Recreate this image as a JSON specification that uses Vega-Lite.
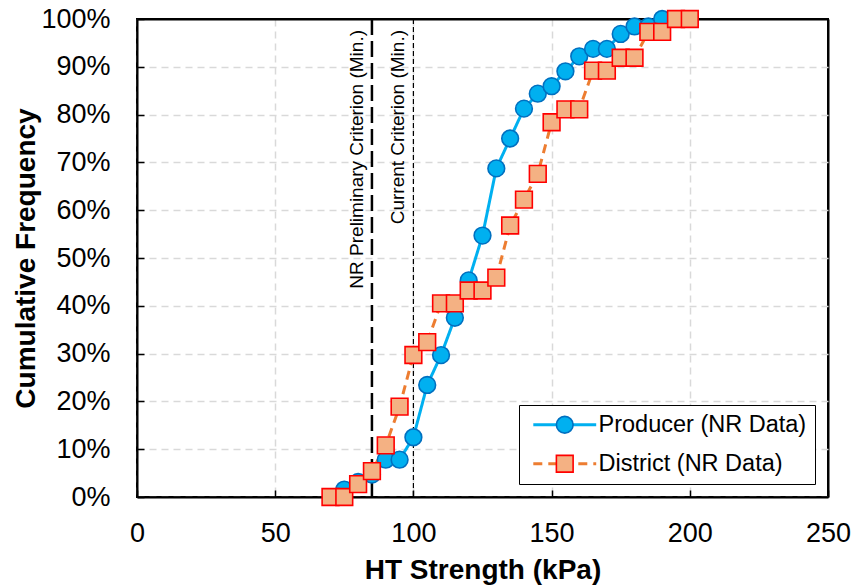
{
  "$schema": "https://vega.github.io/schema/vega-lite/v6.json",
  "width": 691,
  "height": 478,
  "autosize": {"type": "none"},
  "padding": {"left": 137, "top": 19, "right": 27, "bottom": 91},
  "background": "white",
  "config": {
    "font": "Liberation Sans",
    "view": {"stroke": "black", "strokeWidth": 2},
    "axis": {
      "labelColor": "black",
      "labelFontSize": 27,
      "labelFont": "Liberation Sans",
      "labelFlush": false,
      "titleFont": "Liberation Sans",
      "titleFontSize": 28,
      "titleFontWeight": "bold",
      "titleColor": "black",
      "domainColor": "black",
      "domainWidth": 2,
      "tickColor": "black",
      "tickWidth": 1.5,
      "tickSize": -7,
      "gridWidth": 1.5
    }
  },
  "datasets": {
    "pts": [
      {"series": "Producer (NR Data)", "curve": "Producer (NR Data)", "x": 75, "y": 0.0156},
      {"series": "Producer (NR Data)", "curve": "Producer (NR Data)", "x": 80, "y": 0.0313},
      {"series": "Producer (NR Data)", "curve": "Producer (NR Data)", "x": 85, "y": 0.0469},
      {"series": "Producer (NR Data)", "curve": "Producer (NR Data)", "x": 90, "y": 0.0781},
      {"series": "Producer (NR Data)", "curve": "Producer (NR Data)", "x": 95, "y": 0.0781},
      {"series": "Producer (NR Data)", "curve": "Producer (NR Data)", "x": 100, "y": 0.125},
      {"series": "Producer (NR Data)", "curve": "Producer (NR Data)", "x": 105, "y": 0.2344},
      {"series": "Producer (NR Data)", "curve": "Producer (NR Data)", "x": 110, "y": 0.2969},
      {"series": "Producer (NR Data)", "curve": "Producer (NR Data)", "x": 115, "y": 0.375},
      {"series": "Producer (NR Data)", "curve": "Producer (NR Data)", "x": 120, "y": 0.4531},
      {"series": "Producer (NR Data)", "curve": "Producer (NR Data)", "x": 125, "y": 0.5469},
      {"series": "Producer (NR Data)", "curve": "Producer (NR Data)", "x": 130, "y": 0.6875},
      {"series": "Producer (NR Data)", "curve": "Producer (NR Data)", "x": 135, "y": 0.75},
      {"series": "Producer (NR Data)", "curve": "Producer (NR Data)", "x": 140, "y": 0.8125},
      {"series": "Producer (NR Data)", "curve": "Producer (NR Data)", "x": 145, "y": 0.8438},
      {"series": "Producer (NR Data)", "curve": "Producer (NR Data)", "x": 150, "y": 0.8594},
      {"series": "Producer (NR Data)", "curve": "Producer (NR Data)", "x": 155, "y": 0.8906},
      {"series": "Producer (NR Data)", "curve": "Producer (NR Data)", "x": 160, "y": 0.9219},
      {"series": "Producer (NR Data)", "curve": "Producer (NR Data)", "x": 165, "y": 0.9375},
      {"series": "Producer (NR Data)", "curve": "Producer (NR Data)", "x": 170, "y": 0.9375},
      {"series": "Producer (NR Data)", "curve": "Producer (NR Data)", "x": 175, "y": 0.9688},
      {"series": "Producer (NR Data)", "curve": "Producer (NR Data)", "x": 180, "y": 0.9844},
      {"series": "Producer (NR Data)", "curve": "Producer (NR Data)", "x": 185, "y": 0.9844},
      {"series": "Producer (NR Data)", "curve": "Producer (NR Data)", "x": 190, "y": 1.0},
      {"series": "District (NR Data)", "curve": "District (NR Data)", "x": 70, "y": 0.0},
      {"series": "District (NR Data)", "curve": "District (NR Data)", "x": 75, "y": 0.0},
      {"series": "District (NR Data)", "curve": "District (NR Data)", "x": 80, "y": 0.027},
      {"series": "District (NR Data)", "curve": "District (NR Data)", "x": 85, "y": 0.054},
      {"series": "District (NR Data)", "curve": "District (NR Data)", "x": 90, "y": 0.108},
      {"series": "District (NR Data)", "curve": "District (NR Data)", "x": 95, "y": 0.189},
      {"series": "District (NR Data)", "curve": "District (NR Data)", "x": 100, "y": 0.297},
      {"series": "District (NR Data)", "curve": "District (NR Data)", "x": 105, "y": 0.324},
      {"series": "District (NR Data)", "curve": "District (NR Data)", "x": 110, "y": 0.405},
      {"series": "District (NR Data)", "curve": "District (NR Data)", "x": 115, "y": 0.405},
      {"series": "District (NR Data)", "curve": "District (NR Data)", "x": 120, "y": 0.432},
      {"series": "District (NR Data)", "curve": "District (NR Data)", "x": 125, "y": 0.432},
      {"series": "District (NR Data)", "curve": "District (NR Data)", "x": 130, "y": 0.459},
      {"series": "District (NR Data)", "curve": "District (NR Data)", "x": 135, "y": 0.568},
      {"series": "District (NR Data)", "curve": "District (NR Data)", "x": 140, "y": 0.622},
      {"series": "District (NR Data)", "curve": "District (NR Data)", "x": 145, "y": 0.676},
      {"series": "District (NR Data)", "curve": "District (NR Data)", "x": 150, "y": 0.784},
      {"series": "District (NR Data)", "curve": "District (NR Data)", "x": 155, "y": 0.811},
      {"series": "District (NR Data)", "curve": "District (NR Data)", "x": 160, "y": 0.811},
      {"series": "District (NR Data)", "curve": "District (NR Data)", "x": 165, "y": 0.892},
      {"series": "District (NR Data)", "curve": "District (NR Data)", "x": 170, "y": 0.892},
      {"series": "District (NR Data)", "curve": "District (NR Data)", "x": 175, "y": 0.919},
      {"series": "District (NR Data)", "curve": "District (NR Data)", "x": 180, "y": 0.919},
      {"series": "District (NR Data)", "curve": "District (NR Data)", "x": 185, "y": 0.973},
      {"series": "District (NR Data)", "curve": "District (NR Data)", "x": 190, "y": 0.973},
      {"series": "District (NR Data)", "curve": "District (NR Data)", "x": 195, "y": 1.0},
      {"series": "District (NR Data)", "curve": "District (NR Data)", "x": 200, "y": 1.0}
    ],
    "criteria": [
      {"x": 85, "kind": "prelim"},
      {"x": 100, "kind": "current"}
    ],
    "labels": [
      {"lx": 85, "ly": 1, "label": "NR Preliminary Criterion (Min.)"},
      {"lx": 100, "ly": 1, "label": "Current Criterion (Min.)"}
    ]
  },
  "encoding": {
    "x": {
      "field": "x", "type": "quantitative",
      "scale": {"domain": [0, 250], "nice": false, "zero": false},
      "axis": {
        "values": [0, 50, 100, 150, 200, 250], "title": "HT Strength (kPa)", "labelPadding": 30, "titlePadding": 10,
        "gridColor": {"condition": {"test": "datum.value === 250", "value": "black"}, "value": "#D9D9D9"},
        "gridDash": {"condition": {"test": "datum.value === 250", "value": []}, "value": [7, 5]},
        "gridWidth": {"condition": {"test": "datum.value === 250", "value": 2}, "value": 1.5}
      }
    },
    "y": {
      "field": "y", "type": "quantitative",
      "scale": {"domain": [0, 1], "nice": false},
      "axis": {
        "values": [0, 0.1, 0.2, 0.3, 0.4, 0.5, 0.6, 0.7, 0.8, 0.9, 1.0], "format": ".0%", "title": "Cumulative Frequency", "labelPadding": 34, "titlePadding": 0,
        "gridColor": {"condition": {"test": "datum.value === 1", "value": "black"}, "value": "#D9D9D9"},
        "gridDash": {"condition": {"test": "datum.value === 1", "value": []}, "value": [7, 5]},
        "gridWidth": {"condition": {"test": "datum.value === 1", "value": 2}, "value": 1.5}
      }
    }
  },
  "layer": [
    {
      "data": {"name": "criteria"},
      "transform": [{"filter": "datum.kind === 'prelim'"}],
      "mark": {"type": "rule", "color": "black", "strokeWidth": 2.5, "strokeDash": [16, 6]},
      "encoding": {"y": null}
    },
    {
      "data": {"name": "criteria"},
      "transform": [{"filter": "datum.kind === 'current'"}],
      "mark": {"type": "rule", "color": "black", "strokeWidth": 1.2, "strokeDash": [5, 3]},
      "encoding": {"y": null}
    },
    {
      "data": {"name": "labels"},
      "mark": {"type": "text", "angle": 270, "align": "right", "baseline": "bottom", "fontSize": 19, "fill": "black", "dx": -11, "dy": -5},
      "encoding": {
        "x": {"field": "lx", "type": "quantitative"},
        "y": {"field": "ly", "type": "quantitative"},
        "text": {"field": "label", "type": "nominal"}
      }
    },
    {
      "data": {"name": "pts"},
      "mark": {"type": "line", "strokeWidth": 3},
      "encoding": {
        "color": {
          "field": "curve", "type": "nominal",
          "scale": {"domain": ["Producer (NR Data)", "District (NR Data)"], "range": ["#00B0F0", "#ED7D31"]},
          "legend": {"title": null, "orient": "none", "legendX": 382, "legendY": 386, "padding": 8, "symbolOffset": 26, "symbolSize": 289, "symbolType": "M-3.7,0H3.7", "symbolStrokeWidth": 3, "labelOffset": 22, "labelFontSize": 23.5, "labelColor": "black", "labelFont": "Liberation Sans", "rowPadding": 14, "strokeColor": "black", "fillColor": "white", "labelLimit": 400, "zindex": 1}
        },
        "strokeDash": {
          "field": "curve", "type": "nominal",
          "scale": {"domain": ["Producer (NR Data)", "District (NR Data)"], "range": [[1, 0], [9, 6]]},
          "legend": {"title": null, "orient": "none", "legendX": 382, "legendY": 386, "padding": 8, "symbolOffset": 26, "symbolSize": 289, "symbolType": "M-3.7,0H3.7", "symbolStrokeWidth": 3, "labelOffset": 22, "labelFontSize": 23.5, "labelColor": "black", "labelFont": "Liberation Sans", "rowPadding": 14, "strokeColor": "black", "fillColor": "white", "labelLimit": 400, "zindex": 1}
        }
      }
    },
    {
      "data": {"name": "pts"},
      "mark": {"type": "point", "filled": true, "opacity": 1, "size": 280, "strokeWidth": 1.6},
      "encoding": {
        "shape": {
          "field": "series", "type": "nominal", "sort": "descending",
          "scale": {"range": ["circle", "square"]},
          "legend": {"title": null, "orient": "none", "legendX": 382, "legendY": 386, "padding": 8, "symbolOffset": 26, "symbolSize": 280, "symbolStrokeWidth": 1.6, "labelOffset": 22, "labelFontSize": 23.5, "labelOpacity": 0, "labelFont": "Liberation Sans", "rowPadding": 14, "labelLimit": 400, "zindex": 2}
        },
        "fill": {
          "field": "series", "type": "nominal", "sort": "descending",
          "scale": {"range": ["#00B0F0", "#F4B183"]},
          "legend": {"title": null, "orient": "none", "legendX": 382, "legendY": 386, "padding": 8, "symbolOffset": 26, "symbolSize": 280, "symbolStrokeWidth": 1.6, "labelOffset": 22, "labelFontSize": 23.5, "labelOpacity": 0, "labelFont": "Liberation Sans", "rowPadding": 14, "labelLimit": 400, "zindex": 2}
        },
        "stroke": {
          "field": "series", "type": "nominal", "sort": "descending",
          "scale": {"range": ["#0070C0", "#FF0000"]},
          "legend": {"title": null, "orient": "none", "legendX": 382, "legendY": 386, "padding": 8, "symbolOffset": 26, "symbolSize": 280, "symbolStrokeWidth": 1.6, "labelOffset": 22, "labelFontSize": 23.5, "labelOpacity": 0, "labelFont": "Liberation Sans", "rowPadding": 14, "labelLimit": 400, "zindex": 2}
        }
      }
    }
  ]
}
